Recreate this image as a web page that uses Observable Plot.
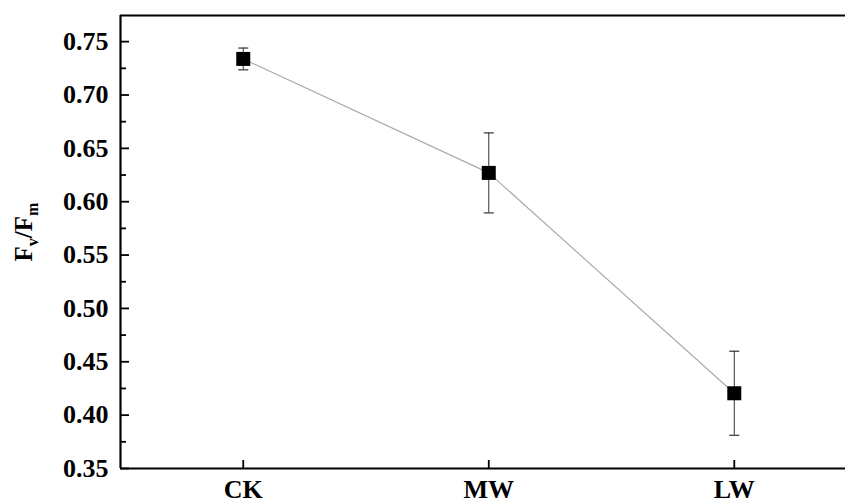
<!DOCTYPE html>
<html>
<head>
<meta charset="utf-8">
<script src="https://cdn.jsdelivr.net/npm/d3@7"></script>
<script src="https://cdn.jsdelivr.net/npm/@observablehq/plot@0.6"></script>
<style>
  html, body { margin: 0; padding: 0; background: #fff; overflow: hidden; }
</style>
</head>
<body>
<div id="chart"></div>
<script>
const categories = ["CK", "MW", "LW"];
const positions = [1, 2, 3];
const means = [0.7338, 0.627, 0.4205];
const sds = [0.0102, 0.0375, 0.0394];
const yTicks = [0.35, 0.40, 0.45, 0.50, 0.55, 0.60, 0.65, 0.70, 0.75];
const yMinorTicks = [0.375, 0.425, 0.475, 0.525, 0.575, 0.625, 0.675, 0.725];
const yDomain = [0.35, 0.7745];
const xDomain = [0.5, 3.453];

const data = categories.map((c, i) => ({
  cat: c, x: positions[i], y: means[i], lo: means[i] - sds[i], hi: means[i] + sds[i]
}));

const capSymbol = {
  draw(context, size) {
    const w = Math.sqrt(size / Math.PI);
    context.moveTo(-w, 0);
    context.lineTo(w, 0);
  }
};

const font = "Liberation Serif, Times New Roman, serif";

const svg = Plot.plot({
  width: 845,
  height: 503,
  marginLeft: 120,
  marginRight: 0,
  marginTop: 15,
  marginBottom: 35,
  style: { fontFamily: font, fontSize: "26px", background: "white", color: "black" },
  x: { type: "linear", domain: xDomain },
  y: { domain: yDomain },
  marks: [
    Plot.line(data, { x: "x", y: "y", stroke: "#aaaaaa", strokeWidth: 1.2 }),
    Plot.ruleX(data, { x: "x", y1: "lo", y2: "hi", stroke: "#333", strokeWidth: 1 }),
    Plot.dot(data, { x: "x", y: "lo", symbol: capSymbol, r: 5, stroke: "#333", strokeWidth: 1.2, fill: "none" }),
    Plot.dot(data, { x: "x", y: "hi", symbol: capSymbol, r: 5, stroke: "#333", strokeWidth: 1.2, fill: "none" }),
    Plot.dot(data, { x: "x", y: "y", symbol: "square", r: 7.9, fill: "black", stroke: "none" }),
    Plot.axisY({ ticks: yTicks, tickFormat: d3.format(".2f"), tickSize: 0, tickPadding: 12, label: null, fontWeight: "bold", fontSize: 26 }),
    Plot.axisY({ ticks: yTicks, text: null, tickSize: -9, label: null, strokeWidth: 1.8 }),
    Plot.axisY({ ticks: yMinorTicks, text: null, tickSize: -6, label: null, strokeWidth: 1.8 }),
    Plot.axisX({ ticks: positions, tickFormat: d => categories[positions.indexOf(d)], tickSize: 0, tickPadding: 11, label: null, fontWeight: "bold", fontSize: 26 }),
    Plot.axisX({ ticks: positions, text: null, tickSize: -8, label: null, strokeWidth: 1.8 }),
    Plot.ruleX([xDomain[0]], { stroke: "black", strokeWidth: 2.2 }),
    Plot.ruleY([yDomain[0]], { stroke: "black", strokeWidth: 2.2 }),
    Plot.ruleY([yDomain[1]], { stroke: "black", strokeWidth: 2.2 })
  ]
});

// y-axis label with subscripts
const label = d3.select(svg).append("text")
  .attr("transform", "translate(32,232) rotate(-90)")
  .attr("text-anchor", "middle")
  .attr("font-family", font)
  .attr("font-weight", "bold")
  .attr("font-size", 25)
  .attr("fill", "black");
label.append("tspan").text("F");
label.append("tspan").attr("font-size", 16).attr("dy", 6).text("v");
label.append("tspan").attr("dy", -6).text("/F");
label.append("tspan").attr("font-size", 16).attr("dy", 6).text("m");

document.getElementById("chart").appendChild(svg);
</script>
</body>
</html>
